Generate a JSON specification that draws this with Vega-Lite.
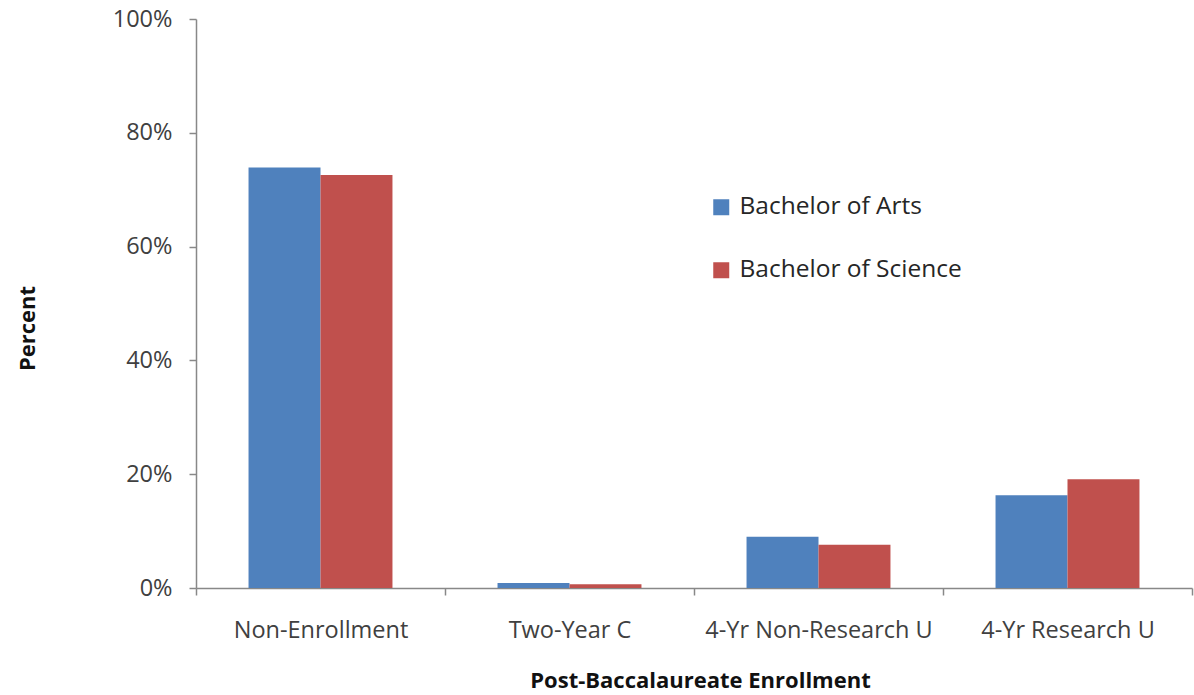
{
  "$schema": "https://vega.github.io/schema/vega-lite/v6.json",
  "autosize": {"type": "none"},
  "width": 996,
  "height": 569,
  "padding": {"left": 196, "top": 19, "right": 2, "bottom": 107},
  "background": "white",
  "config": {
    "font": "Open Sans",
    "view": {"stroke": null}
  },
  "data": {
    "values": [
      {"category": "Non-Enrollment", "degree": "Bachelor of Arts", "value": 0.739},
      {"category": "Non-Enrollment", "degree": "Bachelor of Science", "value": 0.726},
      {"category": "Two-Year C", "degree": "Bachelor of Arts", "value": 0.009},
      {"category": "Two-Year C", "degree": "Bachelor of Science", "value": 0.0065},
      {"category": "4-Yr Non-Research U", "degree": "Bachelor of Arts", "value": 0.09},
      {"category": "4-Yr Non-Research U", "degree": "Bachelor of Science", "value": 0.076},
      {"category": "4-Yr Research U", "degree": "Bachelor of Arts", "value": 0.163},
      {"category": "4-Yr Research U", "degree": "Bachelor of Science", "value": 0.191}
    ]
  },
  "mark": {"type": "bar"},
  "encoding": {
    "x": {
      "field": "category",
      "type": "nominal",
      "sort": ["Non-Enrollment", "Two-Year C", "4-Yr Non-Research U", "4-Yr Research U"],
      "scale": {"paddingInner": 0, "paddingOuter": 0},
      "axis": {
        "title": "Post-Baccalaureate Enrollment",
        "titleFont": "Open Sans",
        "titleFontSize": 22,
        "titleFontWeight": "bold",
        "titleColor": "#111111",
        "titleX": 504,
        "titleY": 92,
        "titleAlign": "center",
        "titleBaseline": "middle",
        "labelAngle": 0,
        "labelFontSize": 23.5,
        "labelColor": "#404040",
        "labelPadding": 23,
        "labelLimit": 0,
        "tickBand": "extent",
        "tickSize": 7,
        "tickColor": "#888888",
        "domainColor": "#888888",
        "domainWidth": 1.5,
        "tickWidth": 1.5
      }
    },
    "xOffset": {
      "field": "degree",
      "type": "nominal",
      "scale": {"paddingInner": 0, "paddingOuter": 0.73}
    },
    "y": {
      "field": "value",
      "type": "quantitative",
      "scale": {"domain": [0, 1], "nice": false},
      "axis": {
        "title": "Percent",
        "titleFont": "Open Sans",
        "titleFontSize": 22,
        "titleFontWeight": "bold",
        "titleColor": "#111111",
        "titleX": -169,
        "titleY": 309,
        "titleAngle": -90,
        "titleAlign": "center",
        "titleBaseline": "middle",
        "values": [0, 0.2, 0.4, 0.6, 0.8, 1],
        "format": ".0%",
        "grid": false,
        "labelFontSize": 23.5,
        "labelColor": "#404040",
        "labelPadding": 17,
        "tickSize": 7,
        "tickColor": "#888888",
        "domainColor": "#888888",
        "domainWidth": 1.5,
        "tickWidth": 1.5
      }
    },
    "color": {
      "field": "degree",
      "type": "nominal",
      "scale": {"domain": ["Bachelor of Arts", "Bachelor of Science"], "range": ["#4F81BD", "#C0504D"]},
      "legend": {
        "title": null,
        "orient": "none",
        "legendX": 513,
        "legendY": 176,
        "symbolType": "square",
        "symbolSize": 256,
        "symbolStrokeWidth": 0,
        "labelFontSize": 24.5,
        "labelColor": "#262626",
        "labelOffset": 6,
        "labelLimit": 0,
        "rowPadding": 38
      }
    }
  }
}
